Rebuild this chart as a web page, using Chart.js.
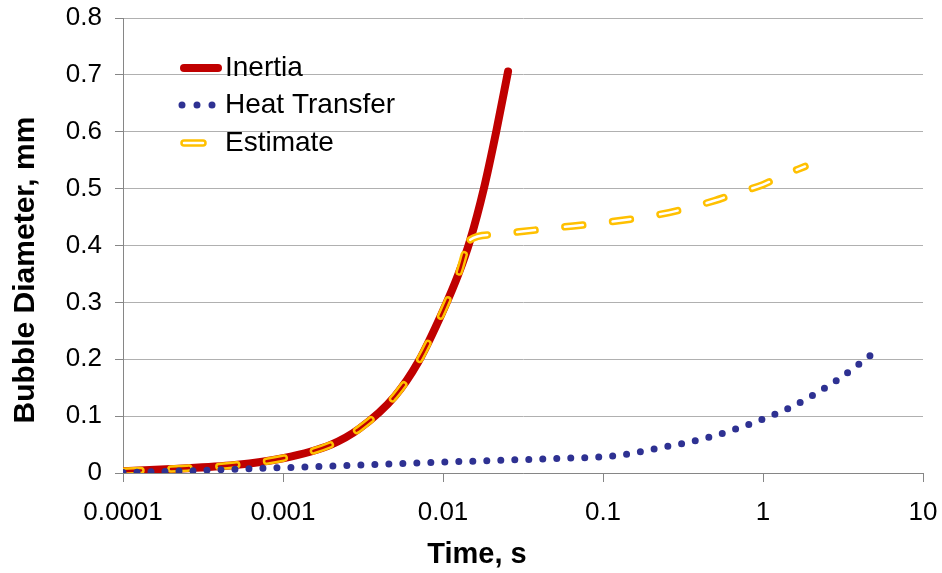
<!DOCTYPE html>
<html>
<head>
    <title>Bubble Diameter vs Time</title>
    <script src="https://cdn.jsdelivr.net/npm/chart.js"></script>
    <style>
        body {
            margin: 0;
            background-color: #ffffff;
        }
        canvas {
            display: block;
        }
    </style>
</head>
<body>
    <canvas id="bubbleChart" width="942" height="573"></canvas>

    <script>
        // time in s, bubble diameter in mm
        const inertiaTime = [0.0001, 0.0002, 0.0005, 0.001, 0.002, 0.003, 0.005, 0.007, 0.01, 0.0125, 0.0148, 0.018, 0.0215, 0.0255];
        const inertiaDiameter = [0.003, 0.007, 0.014, 0.026, 0.05, 0.078, 0.135, 0.195, 0.285, 0.35, 0.41, 0.5, 0.6, 0.706];

        const heatTime = [0.0001, 0.00015, 0.0003, 0.0006, 0.0017, 0.0047, 0.013, 0.024, 0.05, 0.1, 0.15, 0.22, 0.33, 0.49, 0.71, 1.0, 1.5, 2.0, 3.0, 4.0, 5.0];
        const heatDiameter = [0.001, 0.002, 0.0045, 0.0074, 0.0114, 0.016, 0.0202, 0.0225, 0.0255, 0.0285, 0.0343, 0.0436, 0.053, 0.065, 0.0794, 0.095, 0.116, 0.135, 0.166, 0.192, 0.213];

        const estimateTime = [0.0001, 0.0002, 0.0005, 0.001, 0.002, 0.003, 0.005, 0.007, 0.01, 0.0125, 0.0148, 0.02, 0.03, 0.05, 0.1, 0.2, 0.3, 0.5, 0.7, 1.0, 1.3, 1.83];
        const estimateDiameter = [0.003, 0.007, 0.014, 0.026, 0.05, 0.078, 0.135, 0.195, 0.285, 0.35, 0.41, 0.419, 0.424, 0.431, 0.44, 0.452, 0.462, 0.479, 0.493, 0.507, 0.522, 0.539];

        // estimate leaves the inertia curve here
        const switchTime = 0.0148;

        const xTickValues = [0.0001, 0.001, 0.01, 0.1, 1, 10];
        const xTickLabels = ['0.0001', '0.001', '0.01', '0.1', '1', '10'];
        const yTickLabels = ['0', '0.1', '0.2', '0.3', '0.4', '0.5', '0.6', '0.7', '0.8'];

        const seriesNames = ['Inertia', 'Heat Transfer', 'Estimate'];
        const xTitle = 'Time, s';
        const yTitle = 'Bubble Diameter, mm';

        const FONT = 'Arial, "Liberation Sans", sans-serif';
        const RED = '#C00000';
        const BLUE = '#2E3192';
        const GOLD = '#FFC000';
        const AXIS = '#868686';

        function toPoints(xs, ys) {
            return xs.map((x, i) => ({ x: x, y: ys[i] }));
        }

        // legend inside the plot and the two axis titles
        const overlay = {
            id: 'overlay',
            afterDraw(chart) {
                const ctx = chart.ctx;
                ctx.save();
                ctx.lineCap = 'round';

                // Inertia sample
                ctx.strokeStyle = RED;
                ctx.lineWidth = 8;
                ctx.beginPath();
                ctx.moveTo(184, 68);
                ctx.lineTo(218, 68);
                ctx.stroke();

                // Heat Transfer sample
                ctx.strokeStyle = BLUE;
                ctx.lineWidth = 7;
                ctx.setLineDash([0, 15]);
                ctx.beginPath();
                ctx.moveTo(182, 105);
                ctx.lineTo(213, 105);
                ctx.stroke();
                ctx.setLineDash([]);

                // Estimate sample
                ctx.strokeStyle = GOLD;
                ctx.lineWidth = 7.5;
                ctx.beginPath();
                ctx.moveTo(184, 143);
                ctx.lineTo(203, 143);
                ctx.stroke();
                ctx.strokeStyle = '#ffffff';
                ctx.lineWidth = 2.5;
                ctx.stroke();

                ctx.fillStyle = '#000000';
                ctx.font = '28px ' + FONT;
                ctx.textAlign = 'left';
                ctx.textBaseline = 'middle';
                ctx.fillText(seriesNames[0], 225, 68);
                ctx.fillText(seriesNames[1], 225, 105);
                ctx.fillText(seriesNames[2], 225, 143);

                ctx.font = 'bold 29px ' + FONT;
                ctx.textAlign = 'center';
                ctx.fillText(xTitle, 477, 555);

                ctx.font = 'bold 30px ' + FONT;
                ctx.translate(26, 270);
                ctx.rotate(-Math.PI / 2);
                ctx.fillText(yTitle, 0, 0);
                ctx.restore();
            }
        };

        const ctx = document.getElementById('bubbleChart').getContext('2d');
        new Chart(ctx, {
            type: 'line',
            data: {
                datasets: [
                    {
                        label: seriesNames[1],
                        data: toPoints(heatTime, heatDiameter),
                        borderColor: BLUE,
                        borderWidth: 7,
                        borderDash: [0, 14],
                        borderCapStyle: 'round',
                        pointRadius: 0,
                        cubicInterpolationMode: 'monotone',
                        fill: false
                    },
                    {
                        // hollow centre of the estimate dashes
                        label: seriesNames[2] + ' inner',
                        data: toPoints(estimateTime, estimateDiameter),
                        borderWidth: 2.5,
                        borderDash: [18, 30],
                        borderCapStyle: 'round',
                        pointRadius: 0,
                        cubicInterpolationMode: 'monotone',
                        fill: false,
                        segment: {
                            borderColor: c => c.p1.parsed.x <= switchTime ? RED : '#ffffff'
                        }
                    },
                    {
                        label: seriesNames[2],
                        data: toPoints(estimateTime, estimateDiameter),
                        borderWidth: 7.5,
                        borderDash: [18, 30],
                        borderCapStyle: 'round',
                        pointRadius: 0,
                        cubicInterpolationMode: 'monotone',
                        fill: false,
                        segment: {
                            // split at the same place as the inner line so the dashes stay aligned
                            borderColor: c => c.p1.parsed.x <= switchTime ? GOLD : '#FFC001'
                        }
                    },
                    {
                        label: seriesNames[0],
                        data: toPoints(inertiaTime, inertiaDiameter),
                        borderColor: RED,
                        borderWidth: 8,
                        borderCapStyle: 'round',
                        pointRadius: 0,
                        cubicInterpolationMode: 'monotone',
                        fill: false
                    }
                ]
            },
            options: {
                responsive: false,
                animation: false,
                layout: {
                    padding: { left: 0, right: 19, top: 18, bottom: 0 }
                },
                plugins: {
                    legend: { display: false },
                    tooltip: { enabled: false }
                },
                scales: {
                    x: {
                        type: 'logarithmic',
                        min: 0.0001,
                        max: 10,
                        afterBuildTicks: axis => {
                            axis.ticks = xTickValues.map(v => ({ value: v }));
                        },
                        afterFit: axis => {
                            axis.height = 100;
                            axis.paddingLeft = 0;
                            axis.paddingRight = 0;
                        },
                        ticks: {
                            color: '#000000',
                            font: { family: FONT, size: 26 },
                            padding: 15,
                            maxRotation: 0,
                            autoSkip: false,
                            callback: (v, i) => xTickLabels[i]
                        },
                        grid: {
                            drawOnChartArea: false,
                            drawTicks: true,
                            tickLength: 9,
                            color: AXIS
                        },
                        border: { display: true, color: AXIS }
                    },
                    y: {
                        min: 0,
                        max: 0.8,
                        afterFit: axis => {
                            axis.width = 123;
                            axis.paddingTop = 0;
                            axis.paddingBottom = 0;
                        },
                        ticks: {
                            stepSize: 0.1,
                            color: '#000000',
                            font: { family: FONT, size: 26 },
                            padding: 13,
                            callback: (v, i) => yTickLabels[i]
                        },
                        grid: {
                            color: '#b0b0b0',
                            tickColor: AXIS,
                            drawTicks: true,
                            tickLength: 8
                        },
                        border: { display: true, color: AXIS }
                    }
                }
            },
            plugins: [overlay]
        });
    </script>
</body>
</html>
